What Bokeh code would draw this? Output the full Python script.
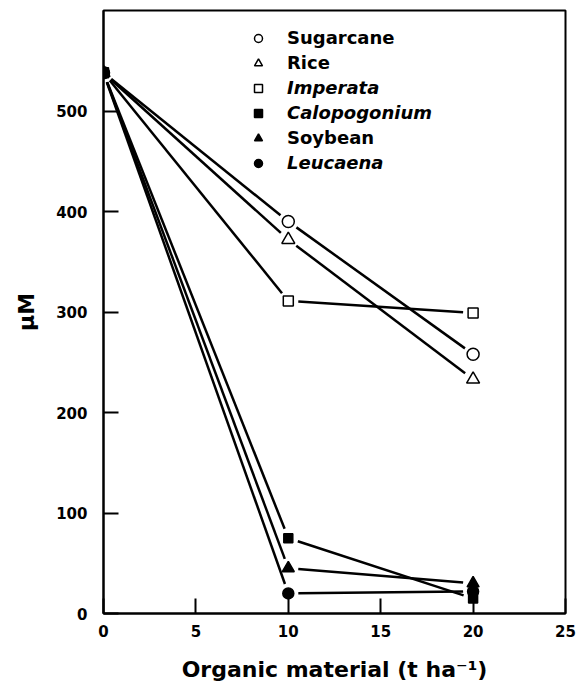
import math
from bokeh.plotting import figure
from bokeh.models import Legend, LegendItem, Range1d, FixedTicker
from bokeh.embed import file_html
from bokeh.resources import INLINE

# ---- data ----
x_vals = [0, 10, 20]
sugarcane = [538, 390, 258]
rice = [538, 372, 233]
imperata = [538, 311, 299]
calopogonium = [538, 75, 15]
soybean = [538, 45, 30]
leucaena = [538, 20, 22]
series_names = ["Sugarcane", "Rice", "Imperata", "Calopogonium", "Soybean", "Leucaena"]
series_values = [sugarcane, rice, imperata, calopogonium, soybean, leucaena]
x_ticks = [0, 5, 10, 15, 20, 25]
y_ticks = [0, 100, 200, 300, 400, 500]
x_label = "Organic material (t ha\u207b\u00b9)"
y_label = "\u00b5M"

# ---- styles ----
markers = ["circle", "triangle", "square", "square", "triangle", "circle"]
fills = ["white", "white", "white", "black", "black", "black"]
sizes = [12, 13, 10, 9, 12, 11]
italic = [False, False, True, True, False, True]
FONT = "DejaVu Sans"

W, H = 579, 684
BL, BR, BT, BB = 103, 14, 10, 71
X0, X1, Y0, Y1 = 0, 25, 0, 600

p = figure(width=W, height=H, x_range=Range1d(X0, X1), y_range=Range1d(Y0, Y1),
           output_backend="svg", toolbar_location=None,
           min_border_left=BL, min_border_right=BR, min_border_top=BT, min_border_bottom=BB)
p.grid.visible = False
p.outline_line_color = "black"
p.outline_line_width = 2
p.outline_line_alpha = 1
p.background_fill_color = "white"
p.border_fill_color = "white"

for ax, ticks in ((p.xaxis[0], x_ticks), (p.yaxis[0], y_ticks)):
    ax.ticker = FixedTicker(ticks=ticks)
    ax.axis_line_width = 2
    ax.major_tick_line_width = 2
    ax.major_tick_in = 15
    ax.major_tick_out = 0
    ax.minor_tick_line_color = None
    ax.major_label_text_font = FONT
    ax.major_label_text_font_style = "bold"
    ax.major_label_text_font_size = "15px"
    ax.major_label_text_color = "black"
    ax.axis_label_text_font = FONT
    ax.axis_label_text_font_style = "bold"
    ax.axis_label_text_font_size = "22px"
    ax.axis_label_text_color = "black"

p.xaxis[0].axis_label = x_label
p.yaxis[0].axis_label = y_label
p.xaxis[0].major_label_standoff = 11
p.xaxis[0].axis_label_standoff = 17
p.yaxis[0].major_label_standoff = 16
p.yaxis[0].axis_label_standoff = 14

# connecting lines, shortened at both ends so they stop short of the markers
kx = (W - BL - BR) / (X1 - X0)   # px per x unit
ky = (H - BT - BB) / (Y1 - Y0)   # px per y unit
GAP = 10                          # px gap between line end and marker centre
for vals in series_values:
    xs0, ys0, xs1, ys1 = [], [], [], []
    for xa, ya, xb, yb in zip(x_vals[:-1], vals[:-1], x_vals[1:], vals[1:]):
        L = math.hypot((xb - xa) * kx, (yb - ya) * ky)
        t = GAP / L
        xs0.append(xa + (xb - xa) * t)
        ys0.append(ya + (yb - ya) * t)
        xs1.append(xb - (xb - xa) * t)
        ys1.append(yb - (yb - ya) * t)
    p.segment(xs0, ys0, xs1, ys1, line_width=2.5, line_color="black")

# markers
renderers = []
for vals, m, f, s in zip(series_values, markers, fills, sizes):
    r = p.scatter(x_vals, vals, marker=m, size=s, fill_color=f, line_color="black", line_width=1.5)
    renderers.append(r)

# legend: one small legend per entry (mixed italic / upright labels)
row_bottom = 565
for i, (name, r) in enumerate(zip(series_names, renderers)):
    leg = Legend(items=[LegendItem(label=name, renderers=[r])],
                 location=(145, row_bottom - 25 * i),
                 glyph_width=20, glyph_height=20, label_height=20,
                 label_standoff=19, padding=0, margin=0, spacing=0,
                 border_line_color=None, background_fill_alpha=0,
                 label_text_font=FONT, label_text_font_size="18px",
                 label_text_font_style="bold italic" if italic[i] else "bold",
                 label_text_color="black")
    p.add_layout(leg)

open("out.html", "w").write(file_html(p, INLINE))
